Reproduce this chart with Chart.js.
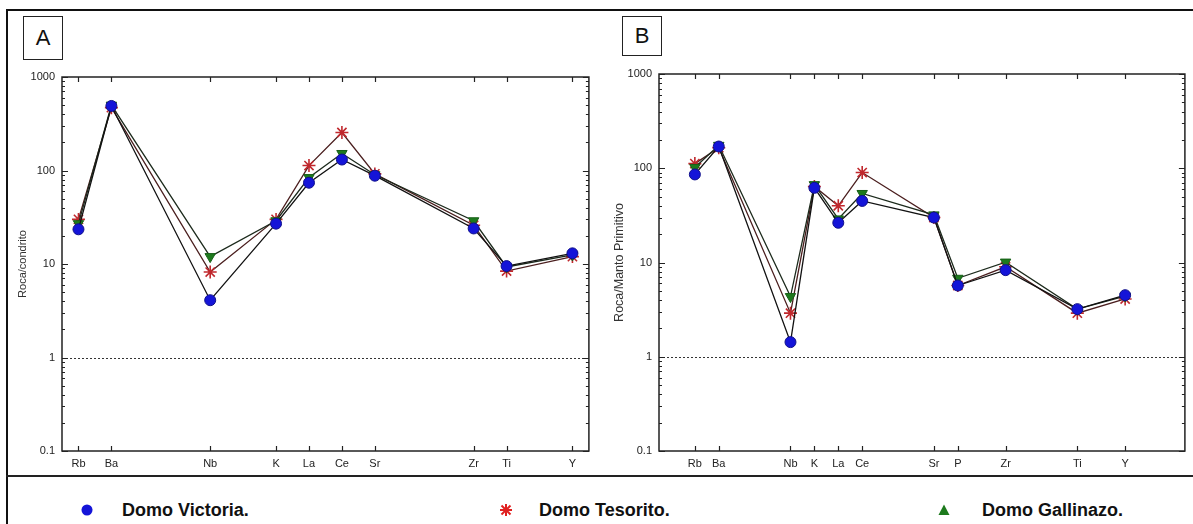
<!DOCTYPE html>
<html>
<head>
<meta charset="utf-8">
<script src="https://cdn.jsdelivr.net/npm/chart.js@4.4.1/dist/chart.umd.min.js"></script>
<style>
  html, body { margin: 0; padding: 0; background: #fff; }
  body { width: 1193px; height: 524px; position: relative; overflow: hidden; font-family: "Liberation Sans", Arial, sans-serif; }
  .frame { position: absolute; left: 6px; top: 9px; width: 1300px; height: 600px; border-left: 2px solid #111; border-top: 2px solid #111; }
  .sep { position: absolute; left: 6px; top: 475px; width: 1300px; border-top: 2px solid #222; }
  .tag { position: absolute; border: 1px solid #222; font-size: 22px; text-align: center; color: #111; box-sizing: border-box; }
  .wrap { position: absolute; top: 11px; }
  .leg { position: absolute; top: 499px; height: 22px; font-family: "Liberation Sans", Arial, sans-serif; font-weight: bold; font-size: 18px; color: #111; line-height: 22px; white-space: nowrap; }
  .leg svg { position: absolute; top: 4px; }
</style>
</head>
<body>
<div class="frame"></div>
<div class="sep"></div>
<div class="tag" style="left:23px; top:16px; width:40px; height:44px; line-height:42px;">A</div>
<div class="tag" style="left:622px; top:16px; width:40px; height:40px; line-height:38px;">B</div>
<div class="wrap" style="left:8px;"><canvas id="chartA" width="589" height="465"></canvas></div>
<div class="wrap" style="left:598px;"><canvas id="chartB" width="595" height="465"></canvas></div>

<div class="leg" style="left:81px;">
  <svg width="12" height="14" style="left:0;"><circle cx="6" cy="7" r="5.5" fill="#1414d8"/></svg>
  <span style="position:absolute; left:41px;">Domo Victoria.</span>
</div>
<div class="leg" style="left:499px;">
  <svg width="14" height="14" style="left:0;"><g stroke="#e02020" stroke-width="2"><line x1="7" y1="1" x2="7" y2="13"/><line x1="1" y1="7" x2="13" y2="7"/><line x1="2.5" y1="2.5" x2="11.5" y2="11.5"/><line x1="11.5" y1="2.5" x2="2.5" y2="11.5"/></g></svg>
  <span style="position:absolute; left:40px;">Domo Tesorito.</span>
</div>
<div class="leg" style="left:938px;">
  <svg width="12" height="14" style="left:0;"><polygon points="6,1.5 11.5,12 0.5,12" fill="#1d7a1d"/></svg>
  <span style="position:absolute; left:44px;">Domo Gallinazo.</span>
</div>

<script>
// Diagrama A: normalizado a condrito
const elementsA = ['Rb', 'Ba', 'Nb', 'K', 'La', 'Ce', 'Sr', 'Zr', 'Ti', 'Y'];
const positionsA = [0, 1, 4, 6, 7, 8, 9, 12, 13, 15];
const victoriaA = [23.5, 490, 4.1, 27, 74, 131, 88, 24, 9.5, 13];
const tesoritoA = [30, 470, 8.2, 30, 113, 255, 92, 26, 8.4, 12];
const gallinazoA = [27, 500, 12, 29, 84, 152, 90, 29, 9.3, 12.5];

// Diagrama B: normalizado a manto primitivo
const elementsB = ['Rb', 'Ba', 'Nb', 'K', 'La', 'Ce', 'Sr', 'P', 'Zr', 'Ti', 'Y'];
const positionsB = [0, 1, 4, 5, 6, 7, 10, 11, 13, 16, 18];
const victoriaB = [86, 170, 1.43, 62, 26.4, 45, 30, 5.7, 8.3, 3.2, 4.5];
const tesoritoB = [112, 165, 2.9, 64, 40, 90, 30, 5.7, 9, 2.9, 4.1];
const gallinazoB = [102, 175, 4.35, 67, 29, 54, 32, 6.8, 10.1, 3.2, 4.4];

const yTickValues = [0.1, 1, 10, 100, 1000];
const refLevel = 1;

const tickFont = { family: '"Liberation Sans", Arial, sans-serif', size: 11 };

const frameTicks = {
    id: 'frameTicks',
    beforeDatasetsDraw(chart) {
        const { ctx, chartArea: a, scales: { x, y } } = chart;
        const seg = (x1, y1, x2, y2) => {
            ctx.beginPath();
            ctx.moveTo(x1, y1);
            ctx.lineTo(x2, y2);
            ctx.stroke();
        };
        ctx.save();
        // linea de referencia
        const yr = Math.round(y.getPixelForValue(refLevel)) + 0.5;
        ctx.strokeStyle = '#333';
        ctx.lineWidth = 1;
        ctx.setLineDash([2, 2]);
        seg(a.left, yr, a.right, yr);
        ctx.setLineDash([]);

        ctx.strokeStyle = '#222';
        ctx.lineWidth = 1.5;
        ctx.strokeRect(a.left, a.top, a.right - a.left, a.bottom - a.top);

        ctx.lineWidth = 1.2;
        x.ticks.forEach(t => {
            const px = Math.round(x.getPixelForValue(t.value)) + 0.5;
            seg(px, a.top, px, a.top + 5);
            seg(px, a.bottom, px, a.bottom - 5);
        });

        ctx.lineWidth = 1;
        for (let e = -1; e <= 3; e++) {
            for (let m = 1; m <= 9; m++) {
                const v = m * Math.pow(10, e);
                if (v > 1000) break;
                const py = Math.round(y.getPixelForValue(v)) + 0.5;
                const len = m === 1 ? 6 : 3;
                seg(a.left, py, a.left + len, py);
                seg(a.right, py, a.right - len, py);
            }
        }
        ctx.restore();
    }
};

function makeSeries(label, positions, values, style) {
    return Object.assign({
        label: label,
        data: positions.map((p, i) => ({ x: p, y: values[i] })),
        showLine: true,
        borderWidth: 1.3,
        pointBorderWidth: 1,
        tension: 0
    }, style);
}

const styleVictoria = {
    borderColor: '#111', pointStyle: 'circle', pointRadius: 5.5,
    pointBackgroundColor: '#1414d8', pointBorderColor: '#10108a'
};
const styleGallinazo = {
    borderColor: '#1c2a1c', pointStyle: 'triangle', pointRotation: 180, pointRadius: 6,
    pointBackgroundColor: '#1d7a1d', pointBorderColor: '#175f17'
};
const styleTesorito = {
    borderColor: '#4a1e1e', pointStyle: 'star', pointRadius: 6.5, pointBorderWidth: 1.6,
    pointBackgroundColor: '#c0282d', pointBorderColor: '#c0282d'
};

function buildChart(canvasId, elements, positions, series, yTitle, layout) {
    const xMin = positions[0] - layout.xPadUnits[0];
    const xMax = positions[positions.length - 1] + layout.xPadUnits[1];
    return new Chart(document.getElementById(canvasId), {
        type: 'line',
        data: {
            datasets: [
                makeSeries('Domo Victoria.', positions, series[0], styleVictoria),
                makeSeries('Domo Gallinazo.', positions, series[2], styleGallinazo),
                makeSeries('Domo Tesorito.', positions, series[1], styleTesorito)
            ]
        },
        options: {
            responsive: false,
            animation: false,
            devicePixelRatio: 1,
            layout: { padding: { top: layout.top, right: layout.right, left: 0, bottom: 0 } },
            plugins: { legend: { display: false }, tooltip: { enabled: false } },
            scales: {
                x: {
                    type: 'linear',
                    min: xMin,
                    max: xMax,
                    grid: { display: false, drawTicks: false },
                    border: { display: false },
                    afterBuildTicks: s => { s.ticks = positions.map(v => ({ value: v })); },
                    afterFit: s => { s.height = 25; },
                    ticks: {
                        autoSkip: false,
                        maxRotation: 0,
                        padding: 6,
                        color: '#222',
                        font: tickFont,
                        callback: v => elements[positions.indexOf(v)]
                    }
                },
                y: {
                    type: 'logarithmic',
                    min: 0.1,
                    max: 1000,
                    grid: { display: false, drawTicks: false },
                    border: { display: false },
                    afterBuildTicks: s => { s.ticks = yTickValues.map(v => ({ value: v })); },
                    afterFit: s => { s.width = layout.yWidth; },
                    ticks: {
                        padding: 7,
                        color: '#222',
                        font: tickFont,
                        callback: v => String(v)
                    },
                    title: {
                        display: true,
                        text: yTitle,
                        color: '#333',
                        font: { family: tickFont.family, size: layout.titleSize },
                        padding: { top: layout.titlePad, bottom: 0 }
                    }
                }
            }
        },
        plugins: [frameTicks]
    });
}

buildChart('chartA', elementsA, positionsA, [victoriaA, tesoritoA, gallinazoA], 'Roca/condrito',
    { top: 66, right: 2, yWidth: 54, titlePad: 8, titleSize: 11, xPadUnits: [0.5, 0.5] });
buildChart('chartB', elementsB, positionsB, [victoriaB, tesoritoB, gallinazoB], 'Roca/Manto Primitivo',
    { top: 63, right: 3, yWidth: 61, titlePad: 14, titleSize: 12.5, xPadUnits: [1.5, 2.5] });
</script>
</body>
</html>
